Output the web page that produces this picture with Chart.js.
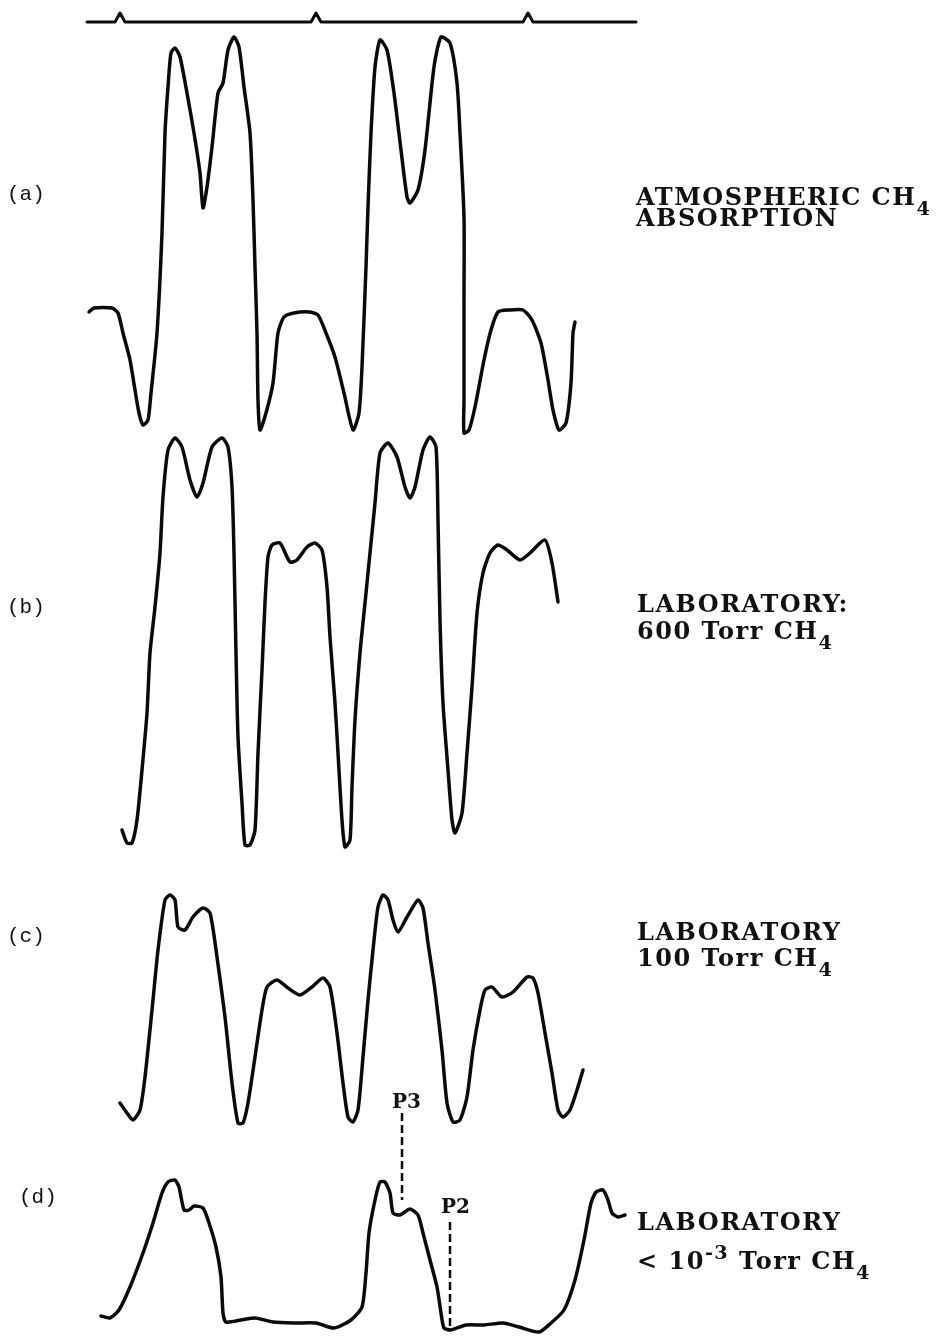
<!DOCTYPE html>
<html>
<head>
<meta charset="utf-8">
<script src="https://cdn.jsdelivr.net/npm/chart.js@4/dist/chart.umd.min.js"></script>
<style>
  html, body { margin: 0; padding: 0; background: #fff; }
  #wrap { position: relative; width: 937px; height: 1337px; overflow: hidden; }
  #trace-canvas { position: absolute; left: 0; top: 0; }
  .lbl { position: absolute; white-space: nowrap; color: #111; }
  .panel { font-family: "Liberation Mono", "DejaVu Sans Mono", monospace; font-size: 21px; line-height: 24px; }
  .desc { font-family: "DejaVu Serif", serif; font-weight: bold; font-size: 24px; line-height: 22px; letter-spacing: 1.5px; }
  .desc sub { font-size: 0.8em; vertical-align: -0.5em; line-height: 0; }
  .desc sup { font-size: 0.8em; vertical-align: 0.5em; line-height: 0; }
  .peak { font-family: "DejaVu Serif", serif; font-weight: bold; font-size: 20px; line-height: 22px; }
</style>
</head>
<body>
<div id="wrap">
  <canvas id="trace-canvas" width="937" height="1337"></canvas>
</div>
<script>
// picture units: x to the right, y downward (0..937, 0..1337)
const scanLineX = [87, 636];
const scanLineY = 22;
const scanTicks = [120, 316, 528];

// (a) atmospheric CH4 absorption
const traceA = [
    [89, 312], [94, 308], [112, 308], [118, 313], [123, 333], [130, 360], [135, 390],
    [139, 413], [143, 425], [148, 420], [151, 393], [157, 333], [162, 233], [165, 133],
    [168, 87], [171, 53], [175, 48], [180, 57], [187, 93], [194, 133], [200, 173],
    [203, 208], [207, 187], [212, 147], [218, 93], [223, 83], [228, 50], [234, 37],
    [239, 47], [244, 87], [250, 133], [253, 200], [255, 267], [257, 333], [258, 400],
    [260, 430], [266, 413], [273, 383], [278, 333], [284, 317], [294, 313], [309, 312],
    [318, 315], [326, 333], [335, 357], [344, 393], [353, 430], [359, 413], [362, 367],
    [366, 267], [368, 207], [371, 133], [375, 67], [380, 40], [387, 50], [394, 93],
    [401, 150], [407, 197], [410, 203], [418, 190], [425, 150], [434, 67], [441, 37],
    [450, 43], [457, 83], [460, 133], [464, 217], [464, 300], [464, 400], [464, 433],
    [469, 430], [475, 407], [484, 360], [491, 330], [498, 312], [509, 310], [523, 310],
    [532, 320], [541, 343], [548, 380], [553, 410], [559, 430], [566, 423], [571, 383],
    [573, 333], [575, 322]
];

// (b) laboratory, 600 Torr CH4
const traceB = [
    [122, 830], [127, 843], [132, 843], [137, 820], [142, 770], [147, 713], [150, 653],
    [155, 607], [160, 553], [163, 497], [168, 450], [175, 438], [182, 447], [190, 480],
    [197, 497], [203, 483], [212, 447], [222, 438], [228, 447], [232, 487], [234, 553],
    [236, 653], [238, 737], [242, 803], [245, 845], [250, 845], [255, 830], [258, 753],
    [262, 670], [265, 603], [268, 557], [272, 545], [280, 543], [290, 562], [297, 560],
    [307, 547], [315, 543], [322, 550], [327, 587], [330, 637], [335, 703], [338, 753],
    [342, 820], [345, 847], [350, 840], [352, 787], [355, 720], [360, 653], [365, 603],
    [370, 553], [375, 503], [380, 453], [388, 443], [397, 457], [405, 487], [410, 498],
    [415, 487], [423, 450], [430, 437], [436, 447], [438, 520], [440, 620], [443, 703],
    [448, 770], [452, 820], [455, 833], [462, 813], [467, 753], [472, 687], [477, 613],
    [483, 573], [490, 553], [498, 545], [507, 550], [520, 560], [530, 553], [545, 540],
    [552, 563], [558, 602]
];

// (c) laboratory, 100 Torr CH4
const traceC = [
    [120, 1103], [127, 1113], [133, 1120], [140, 1110], [145, 1077], [152, 1010],
    [158, 950], [165, 900], [170, 895], [175, 900], [178, 927], [185, 930], [193, 917],
    [203, 908], [210, 913], [217, 957], [225, 1017], [232, 1083], [238, 1123],
    [243, 1123], [248, 1103], [255, 1057], [262, 1010], [267, 987], [277, 980],
    [288, 988], [300, 995], [312, 987], [323, 978], [330, 987], [337, 1033],
    [343, 1083], [348, 1117], [353, 1122], [358, 1110], [363, 1057], [368, 1000],
    [373, 950], [378, 907], [383, 895], [388, 900], [393, 920], [398, 932], [407, 917],
    [418, 900], [423, 908], [428, 943], [435, 990], [442, 1050], [447, 1103],
    [453, 1122], [460, 1120], [467, 1097], [473, 1050], [480, 1010], [485, 990],
    [492, 987], [502, 997], [513, 992], [527, 977], [533, 978], [538, 993], [545, 1033],
    [552, 1073], [558, 1110], [563, 1117], [570, 1110], [577, 1090], [583, 1070]
];

// (d) laboratory, < 1e-3 Torr CH4
const traceD = [
    [101, 1316], [110, 1318], [119, 1310], [130, 1287], [143, 1253], [153, 1223],
    [162, 1193], [168, 1182], [175, 1180], [179, 1187], [184, 1210], [189, 1210],
    [194, 1206], [203, 1208], [209, 1223], [216, 1247], [221, 1277], [223, 1313],
    [226, 1322], [241, 1320], [255, 1318], [273, 1322], [294, 1323], [316, 1323],
    [334, 1328], [351, 1320], [362, 1307], [366, 1273], [369, 1233], [375, 1200],
    [380, 1182], [385, 1182], [390, 1193], [393, 1213], [400, 1215], [410, 1209],
    [418, 1215], [423, 1233], [430, 1260], [437, 1287], [441, 1313], [444, 1328],
    [451, 1330], [466, 1325], [484, 1325], [503, 1323], [519, 1327], [539, 1332],
    [551, 1323], [564, 1310], [575, 1280], [584, 1240], [591, 1203], [596, 1192],
    [603, 1190], [608, 1200], [612, 1213], [618, 1217], [625, 1215]
];

// dashed markers for the P3 and P2 lines
const markerP3 = [[402, 1113], [402, 1200]];
const markerP2 = [[450, 1222], [450, 1330]];

const panelLabels = ['(a)', '(b)', '(c)', '(d)'];
const panelLabelPos = [[7, 183], [7, 596], [7, 925], [19, 1186]];

const descLines = [
    ['ATMOSPHERIC CH<sub>4</sub>', 'ABSORPTION'],
    ['LABORATORY:', '600 Torr CH<sub>4</sub>'],
    ['LABORATORY', '100 Torr CH<sub>4</sub>'],
    ['LABORATORY', '&lt; 10<sup>-3</sup> Torr CH<sub>4</sub>']
];
const descPos = [[636, 186, 21], [637, 593, 27], [637, 921, 26], [637, 1211, 39]];

function toPoints(pairs) {
    return pairs.map(p => ({ x: p[0], y: p[1] }));
}

function buildScanLine() {
    const pts = [[scanLineX[0], scanLineY]];
    scanTicks.forEach(t => {
        pts.push([t - 5, scanLineY], [t, scanLineY - 9], [t + 5, scanLineY]);
    });
    pts.push([scanLineX[1], scanLineY]);
    return pts;
}

function traceSet(pairs, width) {
    return {
        data: toPoints(pairs),
        showLine: true,
        borderColor: '#0a0a0a',
        borderWidth: width,
        tension: 0.22,
        pointRadius: 0,
        fill: false,
        borderCapStyle: 'round',
        borderJoinStyle: 'round',
    };
}

const datasets = [
    Object.assign(traceSet(buildScanLine(), 3), { tension: 0 }),
    traceSet(traceA, 3.5),
    traceSet(traceB, 3.5),
    traceSet(traceC, 3.5),
    traceSet(traceD, 3.5),
    Object.assign(traceSet(markerP3, 2.5), { borderDash: [8, 4], tension: 0, borderCapStyle: 'butt' }),
    Object.assign(traceSet(markerP2, 2.5), { borderDash: [8, 4], tension: 0, borderCapStyle: 'butt' }),
];

new Chart(document.getElementById('trace-canvas'), {
    type: 'scatter',
    data: { datasets: datasets },
    options: {
        responsive: false,
        animation: false,
        layout: { padding: 0 },
        plugins: { legend: { display: false }, tooltip: { enabled: false } },
        scales: {
            x: { type: 'linear', min: 0, max: 937, display: false },
            y: { type: 'linear', min: 0, max: 1337, reverse: true, display: false },
        },
    },
});

// text labels as real text on top of the canvas
const wrap = document.getElementById('wrap');
function addLabel(cls, html, left, top) {
    const d = document.createElement('div');
    d.className = 'lbl ' + cls;
    d.innerHTML = html;
    d.style.left = left + 'px';
    d.style.top = top + 'px';
    wrap.appendChild(d);
}

panelLabels.forEach((t, i) => addLabel('panel', t, panelLabelPos[i][0], panelLabelPos[i][1]));
descLines.forEach((lines, i) => {
    const [x, y, gap] = descPos[i];
    addLabel('desc', lines[0], x, y);
    addLabel('desc', lines[1], x, y + gap);
});
addLabel('peak', 'P3', 392, 1090);
addLabel('peak', 'P2', 441, 1195);
</script>
</body>
</html>
